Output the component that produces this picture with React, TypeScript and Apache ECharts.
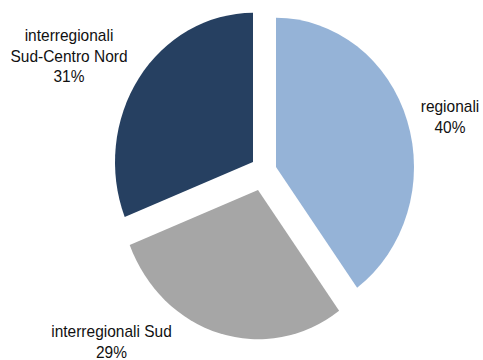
import React, { useEffect, useRef } from "react";
import * as echarts from "echarts";

const categories = ["regionali", "interregionali Sud", "interregionali\nSud-Centro Nord"];
const values = [40, 29, 31];
const colors = ["#95B3D7", "#A6A6A6", "#264061"];

const SCALE_Y = 1.081;
const W = 483;
const H = 333;

// per-slice pie centres (exploded slices), in unstretched px
const centers: number[][] = [
  [276, 154.5],
  [258, 175.8],
  [253, 149.9],
];
const labelPos: number[][] = [
  [450, 107.8],
  [111.5, 315.6],
  [69, 51.3],
];

export default function App() {
  const ref = useRef<HTMLDivElement>(null);
  useEffect(() => {
    const chart = echarts.init(ref.current!, null, { renderer: "svg" });
    const series = values.map((_, k) => ({
      type: "pie",
      radius: 138,
      center: centers[k],
      startAngle: 90,
      clockwise: true,
      silent: true,
      avoidLabelOverlap: false,
      data: categories.map((name, i) => ({
        name,
        value: values[i],
        itemStyle: { color: i === k ? colors[i] : "rgba(0,0,0,0)" },
        label: { show: i === k },
      })),
      label: {
        position: "outside",
        formatter: (p: any) => `${p.name}\n${Math.round(p.percent)}%`,
        fontFamily: "Liberation Sans",
        fontSize: 15.5,
        color: "#111",
        lineHeight: 19,
        align: "center",
      },
      labelLine: { show: false },
      labelLayout: {
        x: labelPos[k][0],
        y: labelPos[k][1],
        align: "center",
        verticalAlign: "middle",
      },
    }));
    chart.setOption({
      animation: false,
      backgroundColor: "#fff",
      series,
    } as any);
    return () => chart.dispose();
  }, []);
  return (
    <div
      ref={ref}
      style={{
        position: "absolute",
        left: 0,
        top: 0,
        width: W,
        height: H,
        transform: `scaleY(${SCALE_Y})`,
        transformOrigin: "0 0",
      }}
    />
  );
}
